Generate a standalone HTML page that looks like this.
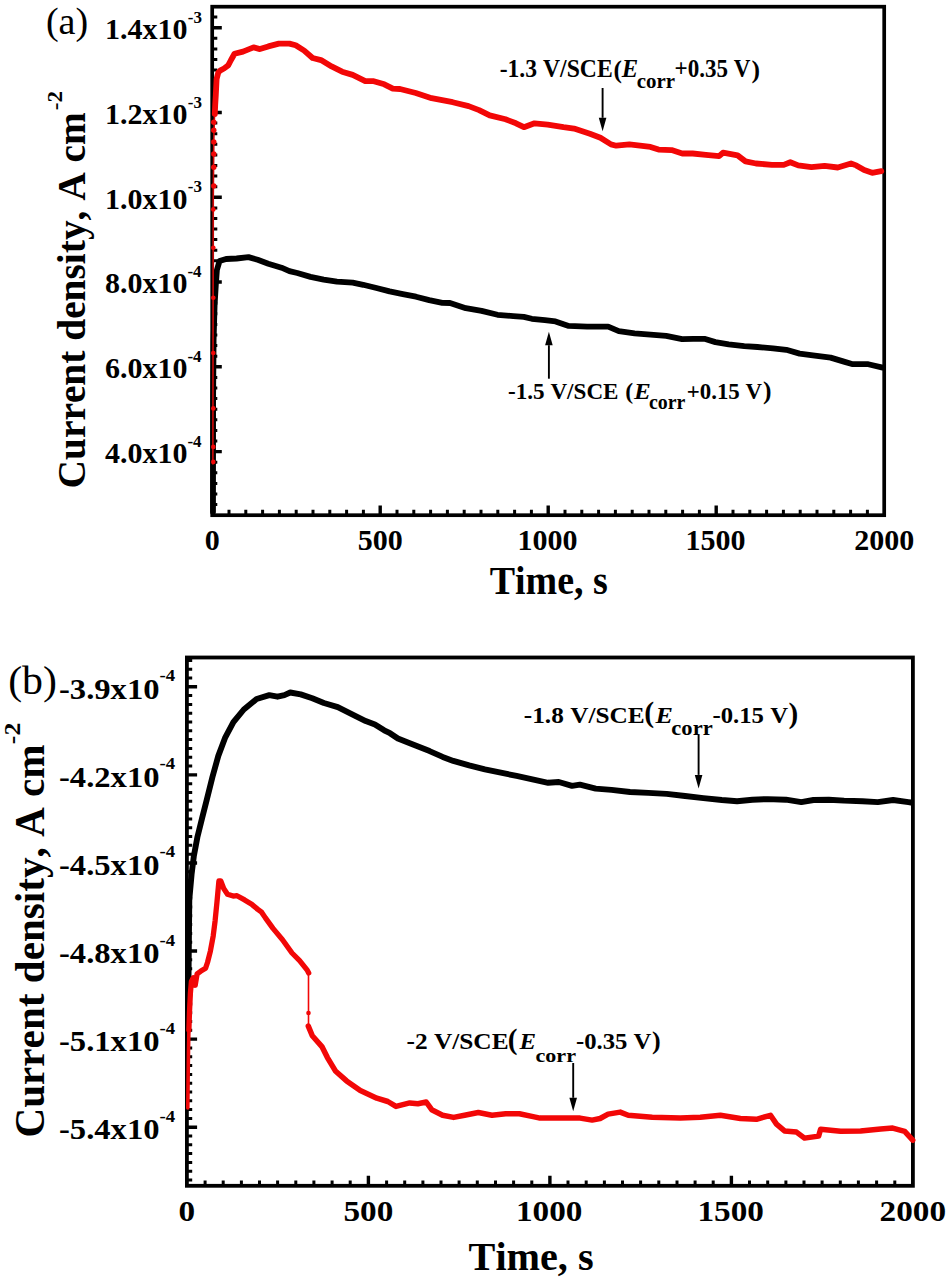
<!DOCTYPE html>
<html><head><meta charset="utf-8"><style>
html,body{margin:0;padding:0;background:#fff;}
svg{display:block;}
text{font-family:"Liberation Serif", serif;fill:#000;font-kerning:none;}
</style></head><body>
<svg width="948" height="1280" viewBox="0 0 948 1280">
<rect width="948" height="1280" fill="#fff"/>
<rect x="212.2" y="6.7" width="672.0" height="508.5" fill="none" stroke="#000" stroke-width="3.7"/>
<path d="M212.2,27.7h9.6 M212.2,112.5h9.6 M212.2,197.3h9.6 M212.2,282.0h9.6 M212.2,366.8h9.6 M212.2,451.6h9.6 M380.2,515.2v-9.6 M548.2,515.2v-9.6 M716.2,515.2v-9.6" stroke="#000" stroke-width="3.4" fill="none"/>
<path d="M212.2,17.1h5.1 M212.2,38.3h5.1 M212.2,48.9h5.1 M212.2,59.5h5.1 M212.2,70.1h5.1 M212.2,80.7h5.1 M212.2,91.3h5.1 M212.2,101.9h5.1 M212.2,123.1h5.1 M212.2,133.7h5.1 M212.2,144.3h5.1 M212.2,154.9h5.1 M212.2,165.5h5.1 M212.2,176.1h5.1 M212.2,186.7h5.1 M212.2,207.9h5.1 M212.2,218.5h5.1 M212.2,229.1h5.1 M212.2,239.6h5.1 M212.2,250.2h5.1 M212.2,260.8h5.1 M212.2,271.4h5.1 M212.2,292.6h5.1 M212.2,303.2h5.1 M212.2,313.8h5.1 M212.2,324.4h5.1 M212.2,335.0h5.1 M212.2,345.6h5.1 M212.2,356.2h5.1 M212.2,377.4h5.1 M212.2,388.0h5.1 M212.2,398.6h5.1 M212.2,409.2h5.1 M212.2,419.8h5.1 M212.2,430.4h5.1 M212.2,441.0h5.1 M212.2,462.2h5.1 M212.2,472.8h5.1 M212.2,483.4h5.1 M212.2,494.0h5.1 M212.2,504.6h5.1 M229.0,515.2v-5.4 M245.8,515.2v-5.4 M262.6,515.2v-5.4 M279.4,515.2v-5.4 M296.2,515.2v-5.4 M313.0,515.2v-5.4 M329.8,515.2v-5.4 M346.6,515.2v-5.4 M363.4,515.2v-5.4 M397.0,515.2v-5.4 M413.8,515.2v-5.4 M430.6,515.2v-5.4 M447.4,515.2v-5.4 M464.2,515.2v-5.4 M481.0,515.2v-5.4 M497.8,515.2v-5.4 M514.6,515.2v-5.4 M531.4,515.2v-5.4 M565.0,515.2v-5.4 M581.8,515.2v-5.4 M598.6,515.2v-5.4 M615.4,515.2v-5.4 M632.2,515.2v-5.4 M649.0,515.2v-5.4 M665.8,515.2v-5.4 M682.6,515.2v-5.4 M699.4,515.2v-5.4 M733.0,515.2v-5.4 M749.8,515.2v-5.4 M766.6,515.2v-5.4 M783.4,515.2v-5.4 M800.2,515.2v-5.4 M817.0,515.2v-5.4 M833.8,515.2v-5.4 M850.6,515.2v-5.4 M867.4,515.2v-5.4" stroke="#000" stroke-width="3.0" fill="none"/>
<rect x="186.9" y="657.5" width="726.0" height="528.3" fill="none" stroke="#000" stroke-width="3.8"/>
<path d="M186.9,686.8h10.2 M186.9,774.9h10.2 M186.9,863.0h10.2 M186.9,951.0h10.2 M186.9,1039.1h10.2 M186.9,1127.2h10.2 M368.4,1185.8v-10 M549.9,1185.8v-10 M731.4,1185.8v-10" stroke="#000" stroke-width="3.4" fill="none"/>
<path d="M186.9,660.4h5.3 M186.9,669.2h5.3 M186.9,678.0h5.3 M186.9,695.6h5.3 M186.9,704.4h5.3 M186.9,713.2h5.3 M186.9,722.0h5.3 M186.9,730.8h5.3 M186.9,739.6h5.3 M186.9,748.5h5.3 M186.9,757.3h5.3 M186.9,766.1h5.3 M186.9,783.7h5.3 M186.9,792.5h5.3 M186.9,801.3h5.3 M186.9,810.1h5.3 M186.9,818.9h5.3 M186.9,827.7h5.3 M186.9,836.5h5.3 M186.9,845.3h5.3 M186.9,854.2h5.3 M186.9,871.8h5.3 M186.9,880.6h5.3 M186.9,889.4h5.3 M186.9,898.2h5.3 M186.9,907.0h5.3 M186.9,915.8h5.3 M186.9,924.6h5.3 M186.9,933.4h5.3 M186.9,942.2h5.3 M186.9,959.8h5.3 M186.9,968.7h5.3 M186.9,977.5h5.3 M186.9,986.3h5.3 M186.9,995.1h5.3 M186.9,1003.9h5.3 M186.9,1012.7h5.3 M186.9,1021.5h5.3 M186.9,1030.3h5.3 M186.9,1047.9h5.3 M186.9,1056.7h5.3 M186.9,1065.5h5.3 M186.9,1074.4h5.3 M186.9,1083.2h5.3 M186.9,1092.0h5.3 M186.9,1100.8h5.3 M186.9,1109.6h5.3 M186.9,1118.4h5.3 M186.9,1136.0h5.3 M186.9,1144.8h5.3 M186.9,1153.6h5.3 M186.9,1162.4h5.3 M186.9,1171.2h5.3 M186.9,1180.0h5.3 M205.1,1185.8v-5.4 M223.2,1185.8v-5.4 M241.4,1185.8v-5.4 M259.5,1185.8v-5.4 M277.6,1185.8v-5.4 M295.8,1185.8v-5.4 M313.9,1185.8v-5.4 M332.1,1185.8v-5.4 M350.2,1185.8v-5.4 M386.6,1185.8v-5.4 M404.7,1185.8v-5.4 M422.9,1185.8v-5.4 M441.0,1185.8v-5.4 M459.1,1185.8v-5.4 M477.3,1185.8v-5.4 M495.5,1185.8v-5.4 M513.6,1185.8v-5.4 M531.8,1185.8v-5.4 M568.0,1185.8v-5.4 M586.2,1185.8v-5.4 M604.4,1185.8v-5.4 M622.5,1185.8v-5.4 M640.6,1185.8v-5.4 M658.8,1185.8v-5.4 M677.0,1185.8v-5.4 M695.1,1185.8v-5.4 M713.2,1185.8v-5.4 M749.5,1185.8v-5.4 M767.7,1185.8v-5.4 M785.9,1185.8v-5.4 M804.0,1185.8v-5.4 M822.1,1185.8v-5.4 M840.3,1185.8v-5.4 M858.4,1185.8v-5.4 M876.6,1185.8v-5.4 M894.8,1185.8v-5.4" stroke="#000" stroke-width="3.0" fill="none"/>
<polyline points="213.0,512.0 213.1,400.0 213.6,340.0 214.6,305.0 215.8,285.0 216.9,270.0 219.5,261.1 226.1,259.0 236.6,258.5 248.5,257.1 257.7,259.8 268.3,263.7 281.5,267.7 289.4,271.1 297.3,273.0 310.5,276.9 323.7,279.6 336.9,281.7 352.7,282.7 363.2,284.8 376.4,288.0 389.6,291.4 402.8,294.1 416.0,296.7 429.2,300.1 442.3,302.8 450.0,303.0 465.8,308.2 481.6,310.9 497.5,314.8 513.3,316.1 523.8,316.9 531.8,318.8 544.9,320.1 555.5,321.4 568.7,325.9 587.1,326.7 608.2,326.7 618.8,331.2 634.6,333.3 650.4,334.6 666.2,335.9 682.1,339.1 693.3,338.8 704.4,338.8 715.4,342.1 728.7,344.3 744.2,346.1 757.5,347.0 773.0,348.3 786.3,349.8 799.6,353.6 812.9,355.4 830.6,357.6 843.9,361.6 852.8,364.2 868.3,364.2 882.7,367.6" fill="none" stroke="#000" stroke-width="5.8" stroke-linejoin="round" stroke-linecap="round"/>
<polyline points="214.6,112.0 213.8,140.0 213.2,200.0 212.9,464.0" fill="none" stroke="#d00808" stroke-width="1.6" stroke-linejoin="round" stroke-linecap="round"/>
<circle cx="213.8" cy="122.3" r="2.7" fill="#f20707"/>
<circle cx="213.8" cy="130.3" r="2.7" fill="#f20707"/>
<circle cx="213.8" cy="141.9" r="2.7" fill="#f20707"/>
<circle cx="213.8" cy="154" r="2.7" fill="#f20707"/>
<circle cx="213.8" cy="167.2" r="2.7" fill="#f20707"/>
<circle cx="213.8" cy="185.9" r="2.7" fill="#f20707"/>
<circle cx="213.3" cy="209.4" r="2.3" fill="#f20707"/>
<circle cx="213.3" cy="247.8" r="2.3" fill="#f20707"/>
<circle cx="213.3" cy="297.8" r="2.3" fill="#f20707"/>
<circle cx="213.3" cy="353" r="2.3" fill="#f20707"/>
<circle cx="213.3" cy="408.4" r="2.3" fill="#f20707"/>
<circle cx="213.3" cy="446.9" r="2.3" fill="#f20707"/>
<circle cx="213.3" cy="461.9" r="2.3" fill="#f20707"/>
<polyline points="214.8,114.0 215.2,105.0 215.8,95.0 216.6,79.0 218.3,72.5 220.5,70.3 224.0,68.5 228.2,65.4 231.0,60.0 234.5,53.8 243.0,51.6 253.5,47.4 259.9,49.1 268.3,46.4 278.8,43.6 289.4,43.6 295.7,45.3 304.2,50.6 312.6,58.0 321.0,60.1 331.6,66.4 342.1,71.7 352.7,74.9 365.3,81.2 373.8,81.2 384.3,84.3 392.8,88.6 400.0,89.0 415.8,93.0 431.6,98.2 452.7,102.2 468.6,106.1 479.1,110.1 489.7,115.4 505.5,119.3 516.0,123.3 523.9,127.2 534.5,123.3 547.7,124.6 563.5,127.2 574.0,128.6 589.9,133.8 600.4,137.8 611.0,144.4 616.2,145.7 629.4,144.4 640.0,145.6 650.5,146.9 658.5,149.6 671.6,150.1 682.2,153.5 692.7,153.5 705.9,154.8 719.1,156.1 723.0,152.7 737.6,155.4 745.5,161.4 756.0,163.5 771.9,164.9 783.7,164.9 790.3,162.2 798.2,165.4 811.4,167.2 824.6,165.9 837.8,167.5 851.0,163.5 856.2,165.4 864.2,170.1 872.1,172.8 881.3,171.2" fill="none" stroke="#f20707" stroke-width="5.8" stroke-linejoin="round" stroke-linecap="round"/>
<polyline points="188.3,1000.0 189.3,899.7 191.6,874.2 193.9,855.7 197.4,837.1 202.0,818.5 206.7,800.0 212.5,776.8 218.3,755.9 225.3,737.3 233.4,722.2 243.8,709.5 256.6,699.0 269.3,695.1 277.5,696.7 284.4,695.1 290.2,692.5 300.7,694.4 312.3,698.3 323.9,703.0 337.8,707.1 351.7,714.1 365.7,721.1 374.9,724.5 384.2,730.3 390.0,733.2 397.9,738.5 411.1,743.7 429.6,751.1 442.7,756.9 453.3,760.9 469.1,765.4 484.9,769.3 500.8,772.7 516.6,775.9 532.4,779.3 548.2,782.8 558.8,782.0 572.0,785.9 579.9,784.6 595.7,788.6 611.5,789.9 630.0,792.0 648.4,792.9 666.7,793.9 685.1,796.0 703.4,798.1 721.8,800.0 737.1,801.2 752.4,799.7 767.7,799.1 786.0,799.7 801.3,802.1 813.5,800.0 828.8,799.7 844.1,800.6 862.5,801.2 877.8,802.1 893.1,800.0 908.4,802.1 911.0,802.5" fill="none" stroke="#000" stroke-width="5.9" stroke-linejoin="round" stroke-linecap="round"/>
<polyline points="187.8,1108.0 188.1,1080.0 188.5,1050.0 189.0,1025.0 189.6,1005.0 190.4,992.9" fill="none" stroke="#f20707" stroke-width="3.6" stroke-linejoin="round" stroke-linecap="round"/>
<polyline points="188.9,1030.0 189.5,1011.9 190.4,992.9 191.4,981.5 193.3,977.7 195.2,985.3 197.1,973.9 200.9,971.1 205.6,968.2 207.5,962.5 210.4,951.1 213.2,935.9 215.1,920.8 217.0,901.8 218.9,880.9 220.8,880.9 223.7,888.5 227.5,894.2 233.2,896.1 237.0,895.7 244.6,899.9 252.1,904.6 257.8,909.4 261.6,912.2 265.4,917.9 273.0,928.4 282.5,939.7 292.0,953.0 299.6,960.6 307.2,970.1 308.7,973.0" fill="none" stroke="#f20707" stroke-width="5.3" stroke-linejoin="round" stroke-linecap="round"/>
<polyline points="308.5,973.0 308.5,1026.0" fill="none" stroke="#f20707" stroke-width="1.6" stroke-linejoin="round" stroke-linecap="round"/>
<circle cx="308.5" cy="1013" r="2.3" fill="#f20707"/>
<polyline points="308.3,1026.1 312.3,1035.7 321.9,1046.6 327.4,1057.6 335.7,1071.3 346.6,1080.9 360.3,1090.5 376.8,1098.2 387.8,1101.5 396.0,1106.4 409.7,1102.9 417.9,1103.7 426.2,1102.0 431.7,1109.7 442.6,1115.2 453.6,1117.4 464.6,1115.2 478.3,1112.5 492.0,1115.2 505.7,1113.8 519.4,1113.8 533.1,1116.6 540.0,1118.1 560.0,1118.1 580.1,1118.1 592.1,1120.1 600.1,1118.5 608.1,1114.1 620.2,1112.1 628.2,1115.3 652.2,1117.3 680.3,1118.1 700.3,1117.3 720.4,1115.3 740.4,1118.5 756.4,1119.3 770.5,1115.3 776.5,1124.1 784.5,1130.9 796.5,1132.1 804.5,1138.1 818.6,1136.1 820.6,1129.3 840.6,1131.3 860.6,1130.9 880.7,1128.9 892.7,1128.1 904.7,1131.3 912.7,1140.1" fill="none" stroke="#f20707" stroke-width="5.5" stroke-linejoin="round" stroke-linecap="round"/>
<line x1="602.6" y1="88" x2="602.6" y2="117.80000000000001" stroke="#000" stroke-width="1.9"/>
<path d="M598.8000000000001,117.80000000000001 L606.4,117.80000000000001 L602.6,131.3 Z" fill="#000"/>
<line x1="548.9" y1="378.7" x2="548.9" y2="345.2" stroke="#000" stroke-width="1.9"/>
<path d="M545.1,345.2 L552.6999999999999,345.2 L548.9,331.7 Z" fill="#000"/>
<line x1="698.6" y1="734.8" x2="698.6" y2="774.9" stroke="#000" stroke-width="1.9"/>
<path d="M694.8000000000001,774.9 L702.4,774.9 L698.6,788.4 Z" fill="#000"/>
<line x1="573.2" y1="1063" x2="573.2" y2="1097.8" stroke="#000" stroke-width="1.9"/>
<path d="M569.4000000000001,1097.8 L577.0,1097.8 L573.2,1111.3 Z" fill="#000"/>
<text transform="translate(45.93 33.54) scale(0.9805 1)" font-size="38.82" font-weight="normal" font-style="normal">(a)</text>
<text transform="translate(104.94 39.00)" font-size="30.00" font-weight="bold" font-style="normal">1.4x10</text>
<text transform="translate(187.72 22.90)" font-size="17.00" font-weight="bold" font-style="normal">-3</text>
<text transform="translate(104.94 123.78)" font-size="30.00" font-weight="bold" font-style="normal">1.2x10</text>
<text transform="translate(187.72 107.68)" font-size="17.00" font-weight="bold" font-style="normal">-3</text>
<text transform="translate(104.94 208.56)" font-size="30.00" font-weight="bold" font-style="normal">1.0x10</text>
<text transform="translate(187.72 192.46)" font-size="17.00" font-weight="bold" font-style="normal">-3</text>
<text transform="translate(104.94 293.34)" font-size="30.00" font-weight="bold" font-style="normal">8.0x10</text>
<text transform="translate(187.45 277.24)" font-size="17.00" font-weight="bold" font-style="normal">-4</text>
<text transform="translate(104.94 378.12)" font-size="30.00" font-weight="bold" font-style="normal">6.0x10</text>
<text transform="translate(187.45 362.02)" font-size="17.00" font-weight="bold" font-style="normal">-4</text>
<text transform="translate(104.94 462.90)" font-size="30.00" font-weight="bold" font-style="normal">4.0x10</text>
<text transform="translate(187.45 446.80)" font-size="17.00" font-weight="bold" font-style="normal">-4</text>
<text transform="translate(204.70 549.50)" font-size="30.00" font-weight="bold" font-style="normal">0</text>
<text transform="translate(357.67 549.50)" font-size="30.00" font-weight="bold" font-style="normal">500</text>
<text transform="translate(517.57 549.50)" font-size="30.00" font-weight="bold" font-style="normal">1000</text>
<text transform="translate(685.57 549.50)" font-size="30.00" font-weight="bold" font-style="normal">1500</text>
<text transform="translate(854.14 549.50)" font-size="30.00" font-weight="bold" font-style="normal">2000</text>
<text transform="translate(489.71 593.70) scale(0.9645 1)" font-size="39.40" font-weight="bold" font-style="normal">Time, s</text>
<text transform="translate(84.90 488.42) rotate(-90) scale(1.0102 1)" font-size="39.00" font-weight="bold">Current density, A cm</text>
<text transform="translate(62.30 110.25) rotate(-90) scale(1.0498 1)" font-size="22.00" font-weight="bold">-2</text>
<text transform="translate(8.16 694.39) scale(1.0224 1)" font-size="40.92" font-weight="normal" font-style="normal">(b)</text>
<text transform="translate(59.01 698.70) scale(1.1054 1)" font-size="29.50" font-weight="bold" font-style="normal">-3.9x10</text>
<text transform="translate(159.41 681.30) scale(1.1376 1)" font-size="16.50" font-weight="bold" font-style="normal">-4</text>
<text transform="translate(59.01 786.78) scale(1.1054 1)" font-size="29.50" font-weight="bold" font-style="normal">-4.2x10</text>
<text transform="translate(159.41 769.38) scale(1.1376 1)" font-size="16.50" font-weight="bold" font-style="normal">-4</text>
<text transform="translate(59.01 874.86) scale(1.1054 1)" font-size="29.50" font-weight="bold" font-style="normal">-4.5x10</text>
<text transform="translate(159.41 857.46) scale(1.1376 1)" font-size="16.50" font-weight="bold" font-style="normal">-4</text>
<text transform="translate(59.01 962.94) scale(1.1054 1)" font-size="29.50" font-weight="bold" font-style="normal">-4.8x10</text>
<text transform="translate(159.41 945.54) scale(1.1376 1)" font-size="16.50" font-weight="bold" font-style="normal">-4</text>
<text transform="translate(59.01 1051.02) scale(1.1054 1)" font-size="29.50" font-weight="bold" font-style="normal">-5.1x10</text>
<text transform="translate(159.41 1033.62) scale(1.1376 1)" font-size="16.50" font-weight="bold" font-style="normal">-4</text>
<text transform="translate(59.01 1139.10) scale(1.1054 1)" font-size="29.50" font-weight="bold" font-style="normal">-5.4x10</text>
<text transform="translate(159.41 1121.70) scale(1.1376 1)" font-size="16.50" font-weight="bold" font-style="normal">-4</text>
<text transform="translate(178.59 1220.60) scale(1.0900 1)" font-size="30.50" font-weight="bold" font-style="normal">0</text>
<text transform="translate(343.43 1220.60) scale(1.0900 1)" font-size="30.50" font-weight="bold" font-style="normal">500</text>
<text transform="translate(515.96 1220.60) scale(1.0900 1)" font-size="30.50" font-weight="bold" font-style="normal">1000</text>
<text transform="translate(697.46 1220.60) scale(1.0900 1)" font-size="30.50" font-weight="bold" font-style="normal">1500</text>
<text transform="translate(879.59 1220.60) scale(1.0900 1)" font-size="30.50" font-weight="bold" font-style="normal">2000</text>
<text transform="translate(468.57 1270.20) scale(0.9881 1)" font-size="40.70" font-weight="bold" font-style="normal">Time, s</text>
<text transform="translate(44.00 1137.51) rotate(-90) scale(0.9571 1)" font-size="43.00" font-weight="bold">Current density, A cm</text>
<text transform="translate(20.20 744.14) rotate(-90) scale(1.0901 1)" font-size="23.50" font-weight="bold">-2</text>
<text transform="translate(499.63 77.30) scale(0.9685 1)" font-size="24.44" font-weight="bold" font-style="normal">-1.3 V/SCE</text>
<text transform="translate(613.39 77.72)" font-size="25.26" font-weight="bold" font-style="normal">(</text>
<text transform="translate(621.68 77.30) scale(1.0086 1)" font-size="24.44" font-weight="bold" font-style="italic">E</text>
<text transform="translate(636.79 87.50) scale(1.0058 1)" font-size="20.77" font-weight="bold" font-style="normal">corr</text>
<text transform="translate(674.58 77.30) scale(0.9432 1)" font-size="24.44" font-weight="bold" font-style="normal">+0.35 V</text>
<text transform="translate(751.48 77.75)" font-size="25.59" font-weight="bold" font-style="normal">)</text>
<text transform="translate(508.05 398.70) scale(0.9835 1)" font-size="23.52" font-weight="bold" font-style="normal">-1.5 V/SCE</text>
<text transform="translate(625.35 399.23)" font-size="23.82" font-weight="bold" font-style="normal">(</text>
<text transform="translate(633.98 398.70) scale(1.0682 1)" font-size="23.52" font-weight="bold" font-style="italic">E</text>
<text transform="translate(648.92 408.50) scale(0.9943 1)" font-size="19.99" font-weight="bold" font-style="normal">corr</text>
<text transform="translate(686.69 398.70) scale(0.9734 1)" font-size="23.52" font-weight="bold" font-style="normal">+0.15 V</text>
<text transform="translate(763.08 398.85)" font-size="25.59" font-weight="bold" font-style="normal">)</text>
<text transform="translate(523.77 722.90) scale(1.0700 1)" font-size="23.67" font-weight="bold" font-style="normal">-1.8 V/SCE</text>
<text transform="translate(644.19 722.46)" font-size="29.78" font-weight="bold" font-style="normal">(</text>
<text transform="translate(655.39 722.90) scale(1.1016 1)" font-size="23.67" font-weight="bold" font-style="italic">E</text>
<text transform="translate(671.33 735.10) scale(1.1222 1)" font-size="20.12" font-weight="bold" font-style="normal">corr</text>
<text transform="translate(712.49 722.90) scale(1.0451 1)" font-size="23.67" font-weight="bold" font-style="normal">-0.15 V</text>
<text transform="translate(788.46 722.60)" font-size="29.12" font-weight="bold" font-style="normal">)</text>
<text transform="translate(406.47 1049.20) scale(1.0850 1)" font-size="23.37" font-weight="bold" font-style="normal">-2 V/SCE</text>
<text transform="translate(507.81 1049.05)" font-size="29.34" font-weight="bold" font-style="normal">(</text>
<text transform="translate(519.58 1049.20) scale(1.0616 1)" font-size="23.37" font-weight="bold" font-style="italic">E</text>
<text transform="translate(535.55 1061.80) scale(1.1114 1)" font-size="19.86" font-weight="bold" font-style="normal">corr</text>
<text transform="translate(576.00 1049.20) scale(1.0573 1)" font-size="23.37" font-weight="bold" font-style="normal">-0.35 V</text>
<text transform="translate(651.96 1049.44)" font-size="26.14" font-weight="bold" font-style="normal">)</text>
</svg>
</body></html>
